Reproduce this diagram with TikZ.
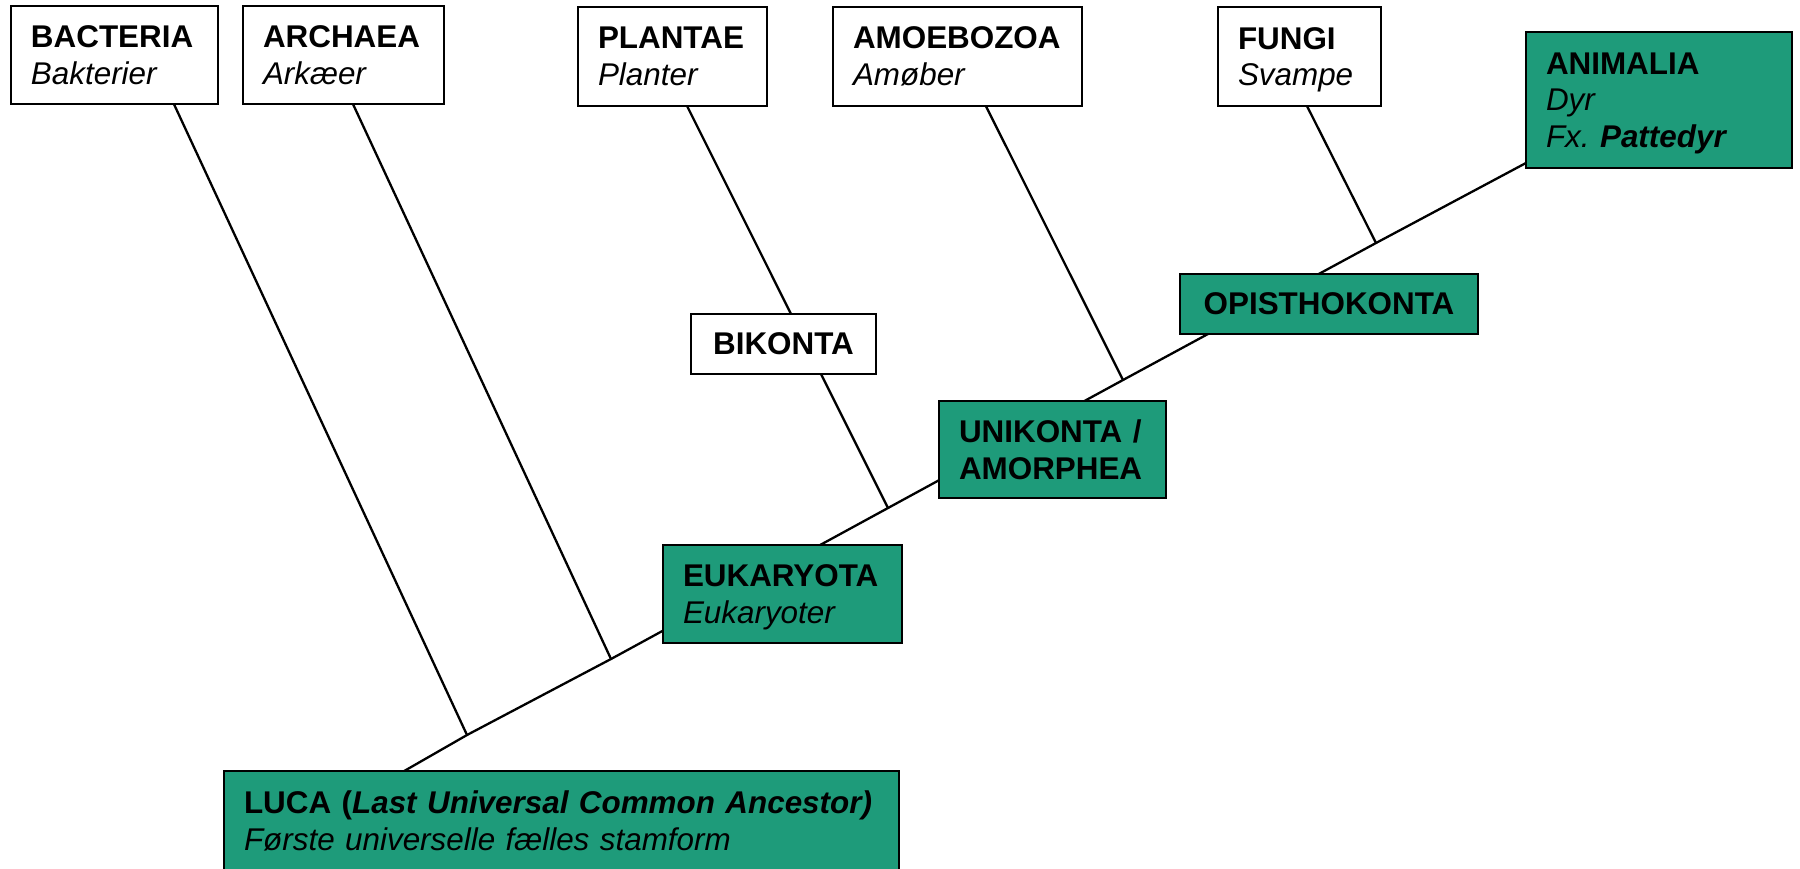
\documentclass[tikz,border=0pt]{standalone}
\usepackage{fontspec}
\setmainfont{Liberation Sans}
\usetikzlibrary{calc,backgrounds}
\definecolor{cladegreen}{RGB}{30,155,122}
\frenchspacing
\begin{document}
\begin{tikzpicture}[x=0.5pt,y=-0.5pt,
  taxon/.style={draw=black, line width=1.35pt, rectangle, outer sep=0pt,
    inner xsep=10pt, inner ysep=0pt, anchor=north west,
    font=\fontsize{15.7pt}{18.4pt}\selectfont},
  listbox/.style={taxon, align=left},
  namebox/.style={taxon, align=center, font=\fontsize{15.7pt}{18.4pt}\selectfont\bfseries},
  plain/.style={fill=white},
  clade/.style={fill=cladegreen},
  branch/.style={draw=black, line width=1.15pt}]
\useasboundingbox (0,0) rectangle (1800,868);
\clip (0,0) rectangle (1800,868);

% leaf taxa along the top
\node[listbox, plain, minimum width=103.5pt, minimum height=49pt, text width=83.5pt] (bact) at (11,6)
  {\textbf{BACTERIA}\\\textit{Bakterier}};
\node[listbox, plain, minimum width=100.5pt, minimum height=49pt, text width=80.5pt] (arch) at (243,6)
  {\textbf{ARCHAEA}\\\textit{Arkæer}};
\node[listbox, plain, minimum width=94.5pt, minimum height=49.5pt, text width=74.5pt] (plant) at (578,7)
  {\textbf{PLANTAE}\\\textit{Planter}};
\node[listbox, plain, minimum width=124.5pt, minimum height=49.5pt, text width=104.5pt] (amoe) at (833,7)
  {\mbox{\textbf{AMOEBOZOA}}\\\textit{Amøber}};
\node[listbox, plain, minimum width=81.5pt, minimum height=49.5pt, text width=61.5pt] (fungi) at (1218,7)
  {\textbf{FUNGI}\\\smash{\textit{Svampe}}};
\node[listbox, clade, minimum width=133pt, minimum height=68pt, text width=113pt] (anim) at (1526,32)
  {\textbf{ANIMALIA}\\\textit{Dyr}\\\smash{\textit{Fx. \textbf{Pattedyr}}}};

% internal clades
\node[namebox, clade, minimum width=149pt, minimum height=30pt] (opis) at (1180,274) {OPISTHOKONTA};
\node[namebox, plain, minimum width=92.5pt, minimum height=30pt] (bik) at (691,314) {BIKONTA};
\node[listbox, clade, minimum width=113.5pt, minimum height=48.5pt, text width=93.5pt] (uni) at (939,401)
  {\textbf{UNIKONTA /}\\\textbf{AMORPHEA}};
\node[listbox, clade, minimum width=119.5pt, minimum height=49pt, text width=99.5pt] (euk) at (663,545)
  {\textbf{EUKARYOTA}\\\smash{\textit{Eukaryoter}}};
\node[listbox, clade, minimum width=337.5pt, minimum height=50pt, text width=317.5pt] (luca) at (224,771)
  {\mbox{\textbf{LUCA (\textit{Last Universal Common Ancestor)}}}\\\textit{Første universelle fælles stamform}};

% branching points on the main stem
\coordinate (jBac) at (467,735);
\coordinate (jArc) at (611,659);
\coordinate (jBik) at (888,508);
\coordinate (jAmo) at (1123,380);
\coordinate (jFun) at (1376,243);

\begin{scope}[on background layer]
  \fill[white] (0,0) rectangle (1800,868);
  % main stem from LUCA to Animalia
  \draw[branch] ($(luca.north west)!0.267!(luca.north east)$) -- (jBac) -- (jArc)
    -- (jBik) -- (jAmo) -- (jFun) -- ($(anim.north west)!0.963!(anim.south west)$);
  % side branches
  \draw[branch] ($(bact.south west)!0.787!(bact.south east)$) -- (jBac);
  \draw[branch] ($(arch.south west)!0.547!(arch.south east)$) -- (jArc);
  \draw[branch] ($(plant.south west)!0.577!(plant.south east)$) -- (jBik);
  \draw[branch] ($(amoe.south west)!0.614!(amoe.south east)$) -- (jAmo);
  \draw[branch] ($(fungi.south west)!0.546!(fungi.south east)$) -- (jFun);
\end{scope}
\end{tikzpicture}
\end{document}
